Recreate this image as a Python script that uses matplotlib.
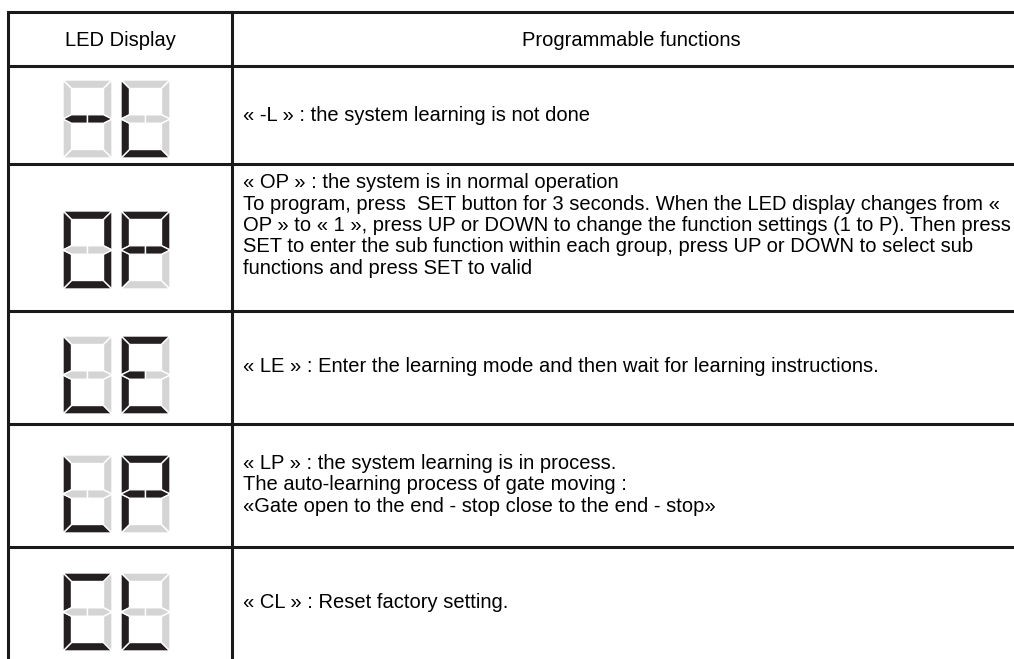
import numpy as np
import matplotlib.pyplot as plt
from matplotlib.patches import Polygon

# Table content
header = ["LED Display", "Programmable functions"]
codes = ["-L", "OP", "LE", "LP", "CL"]
descriptions = [
    ["« -L » : the system learning is not done"],
    ["« OP » : the system is in normal operation",
     "To program, press  SET button for 3 seconds. When the LED display changes from «",
     "OP » to « 1 », press UP or DOWN to change the function settings (1 to P). Then press",
     "SET to enter the sub function within each group, press UP or DOWN to select sub",
     "functions and press SET to valid"],
    ["« LE » : Enter the learning mode and then wait for learning instructions."],
    ["« LP » : the system learning is in process.",
     "The auto-learning process of gate moving :",
     "«Gate open to the end - stop close to the end - stop»"],
    ["« CL » : Reset factory setting."],
]
# lit segments of each digit (g1/g2 = left/right half of the middle bar)
glyphs = {
    "-": ["g1", "g2"],
    "L": ["f", "e", "d"],
    "O": ["a", "b", "c", "d", "e", "f"],
    "P": ["a", "b", "f", "e", "g1", "g2"],
    "E": ["a", "f", "g1", "e", "d"],
    "C": ["a", "f", "e", "d"],
}

# layout (pixels, y downwards)
row_lines = [11.5, 66, 164, 311, 424, 547]
col_x = [8, 232, 1014]
digit_top = [80, 211, 336, 455, 573]
baselines = [[121], [188, 209.5, 231, 252.5, 274], [372], [469, 490.5, 512], [608]]

ON = "#231f20"
OFF = "#d4d4d4"

plt.rcParams['font.family'] = ['Liberation Sans', 'DejaVu Sans']


def segments(x0, y0, W=49, H=78, t=8.5):
    # (x0, y0) is the top-left corner of the digit
    m = H / 2
    s = {}
    s["a"] = [(0, 0), (W, 0), (W - t, t), (t, t)]
    s["d"] = [(0, H), (W, H), (W - t, H - t), (t, H - t)]
    s["f"] = [(0, 0), (t, t), (t, m - t / 2), (0, m)]
    s["e"] = [(0, H), (t, H - t), (t, m + t / 2), (0, m)]
    s["b"] = [(W, 0), (W - t, t), (W - t, m - t / 2), (W, m)]
    s["c"] = [(W, H), (W - t, H - t), (W - t, m + t / 2), (W, m)]
    s["g1"] = [(0, m), (t, m - t / 2), (W / 2, m - t / 2), (W / 2, m + t / 2), (t, m + t / 2)]
    s["g2"] = [(W, m), (W - t, m - t / 2), (W / 2, m - t / 2), (W / 2, m + t / 2), (W - t, m + t / 2)]
    return {k: [(x0 + px, y0 + py) for px, py in v] for k, v in s.items()}


fig = plt.figure(figsize=(10.14, 6.59), dpi=100)
ax = fig.add_axes([0, 0, 1, 1])
ax.set_xlim(0, 1014)
ax.set_ylim(659, 0)
ax.axis('off')

# grid lines
for y in row_lines:
    ax.plot([col_x[0], col_x[2]], [y, y], color="#1a1a1a", lw=2.2, solid_capstyle='butt')
ax.plot([col_x[0], col_x[0]], [row_lines[0], 659], color="#1a1a1a", lw=2.2)
ax.plot([col_x[1], col_x[1]], [row_lines[0], 659], color="#1a1a1a", lw=2.2)

fs = 14.5

# header
ax.text(120, 45.5, header[0], ha='center', va='baseline', fontsize=fs)
ax.text(631, 45.5, header[1], ha='center', va='baseline', fontsize=fs)

# LED displays
for code, top in zip(codes, digit_top):
    for i, ch in enumerate(code):
        x0 = 63 + i * 58
        lit = glyphs[ch]
        for name, pts in segments(x0, top).items():
            col = ON if name in lit else OFF
            ax.add_patch(Polygon(pts, closed=True, facecolor=col,
                                 edgecolor="white", lw=1.0))

# descriptions
for lines, ys in zip(descriptions, baselines):
    for line, y in zip(lines, ys):
        ax.text(243, y, line, ha='left', va='baseline', fontsize=fs)

fig.savefig("out.png", dpi=100)
